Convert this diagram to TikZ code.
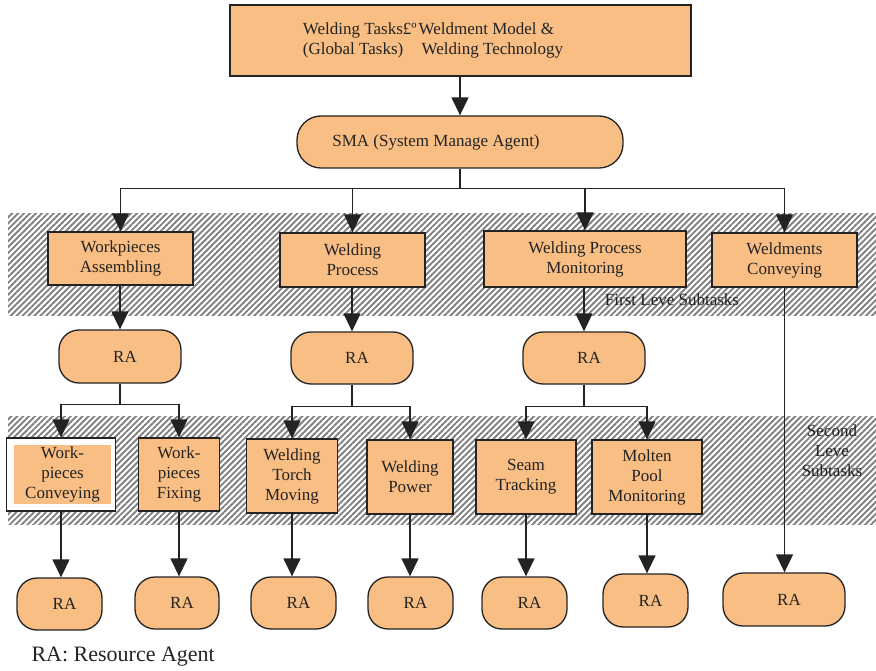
\documentclass[tikz,border=0pt]{standalone}
\usepackage{fontspec}
\setmainfont{Liberation Serif}
\usetikzlibrary{arrows.meta,patterns.meta}
\definecolor{boxfill}{RGB}{249,190,132}
\definecolor{edge}{RGB}{35,35,35}
\begin{document}
\begin{tikzpicture}[x=1pt,y=-1pt,
  every node/.style={font=\fontsize{17}{20}\selectfont, text=edge},
  task/.style={draw=edge, line width=1.3pt, fill=boxfill, rectangle, inner sep=0pt, align=center},
  plain/.style={draw=edge, line width=1.3pt, fill=boxfill, rectangle, inner sep=0pt},
  agent/.style={draw=edge, line width=1.3pt, fill=boxfill, rectangle, rounded corners=20pt, inner sep=0pt},
  link/.style={draw=edge, line width=1.3pt, -{Triangle[width=17pt,length=18pt]}},
  band/.style={pattern={Lines[angle=45,distance=4.2pt,line width=1.9pt]}, pattern color=black!50}
]
\useasboundingbox (0,0) rectangle (876,671);

% hatched bands for the two subtask levels
\fill[band] (8,214) rectangle (876,315);
\fill[band] (8,416) rectangle (876,524);

% global level
\node[plain, minimum width=461pt, minimum height=71pt] (top) at (460.5,40.5)
  {\hspace*{-55pt}\begin{tabular}{@{}l@{\hspace{2pt}}l@{}}Welding Tasks£º&Weldment Model \&\\(Global Tasks)&\hspace{3pt}Welding Technology\end{tabular}};
\node[plain, rounded corners=24pt, minimum width=326pt, minimum height=52pt] (sma) at (460,142)
  {\hspace*{-48pt}SMA (System Manage Agent)};

% first level subtasks
\node[task, minimum width=145pt, minimum height=53pt] (wa) at (120.5,258.5) {Workpieces\\Assembling};
\node[task, minimum width=145pt, minimum height=54pt] (wp) at (352.5,260) {Welding\\Process};
\node[task, minimum width=202pt, minimum height=56pt] (wpm) at (585,259) {Welding Process\\Monitoring};
\node[task, minimum width=145pt, minimum height=54pt] (wdc) at (784.5,260) {Weldments\\Conveying};
\node (lvl1) at (672,300) {First Leve Subtasks};

% resource agents of the first level
\node[agent, minimum width=122pt, minimum height=53pt] (ra1) at (120,356.5) {\hspace*{10pt}RA};
\node[agent, minimum width=122pt, minimum height=52pt] (ra2) at (352,358) {\hspace*{10pt}RA};
\node[agent, minimum width=122pt, minimum height=52pt] (ra3) at (584,358) {\hspace*{10pt}RA};

% second level subtasks
\node[draw=edge, line width=1.3pt, fill=white, minimum width=109pt, minimum height=73pt, inner sep=0pt] (wcv) at (61,474.5) {};
\node[fill=boxfill, minimum width=97pt, minimum height=59pt, inner sep=0pt, align=center] (wcvin) at (62.5,474.5) {Work-\\pieces\\Conveying};
\node[task, minimum width=81pt, minimum height=73pt] (wfx) at (179,474.5) {Work-\\pieces\\Fixing};
\node[task, minimum width=91pt, minimum height=74pt] (wtm) at (292,476) {Welding\\Torch\\Moving};
\node[task, minimum width=86pt, minimum height=74pt] (wpw) at (410,477) {Welding\\Power};
\node[task, minimum width=100pt, minimum height=74pt] (stk) at (526,477) {Seam\\Tracking};
\node[task, minimum width=110pt, minimum height=74pt] (mpm) at (647,477) {Molten\\Pool\\Monitoring};
\node[align=center] (lvl2) at (832,451) {Second\\Leve\\Subtasks};

% resource agents of the second level
\node[agent, minimum width=85pt, minimum height=52pt] (r4) at (59.5,604) {\hspace*{10pt}RA};
\node[agent, minimum width=84pt, minimum height=52pt] (r5) at (177,603) {\hspace*{10pt}RA};
\node[agent, minimum width=85pt, minimum height=52pt] (r6) at (293.5,603) {\hspace*{10pt}RA};
\node[agent, minimum width=85pt, minimum height=52pt] (r7) at (410.5,603) {\hspace*{10pt}RA};
\node[agent, minimum width=85pt, minimum height=52pt] (r8) at (524.5,603) {\hspace*{10pt}RA};
\node[agent, minimum width=85pt, minimum height=53pt] (r9) at (645.5,600.5) {\hspace*{10pt}RA};
\node[agent, minimum width=122pt, minimum height=53pt] (r10) at (784,599.5) {\hspace*{10pt}RA};

\node[anchor=west, font=\fontsize{22}{26}\selectfont] (legend) at (28,657) {RA: Resource Agent};

% connectors
\draw[link] (top.south -| sma.north) -- (sma.north);
\draw[link] (sma.south) -- ++(0,20) -| (wa.north);
\draw[link] (sma.south) -- ++(0,20) -| (wp.north);
\draw[link] (sma.south) -- ++(0,20) -| (wpm.north);
\draw[link] (sma.south) -- ++(0,20) -| (wdc.north);

\draw[link] (wa.south -| ra1.north) -- (ra1.north);
\draw[link] (wp.south -| ra2.north) -- (ra2.north);
\draw[link] (wpm.south -| ra3.north) -- (ra3.north);
\draw[link] (wdc.south) -- (wdc.south |- r10.north);

\draw[link] (ra1.south) -- ++(0,21) -| (wcv.north);
\draw[link] (ra1.south) -- ++(0,21) -| (wfx.north);
\draw[link] (ra2.south) -- ++(0,22) -| (wtm.north);
\draw[link] (ra2.south) -- ++(0,22) -| (wpw.north);
\draw[link] (ra3.south) -- ++(0,22) -| (stk.north);
\draw[link] (ra3.south) -- ++(0,22) -| (mpm.north);

\draw[link] (wcv.south) -- (wcv.south |- r4.north);
\draw[link] (wfx.south) -- (wfx.south |- r5.north);
\draw[link] (wtm.south) -- (wtm.south |- r6.north);
\draw[link] (wpw.south) -- (wpw.south |- r7.north);
\draw[link] (stk.south) -- (stk.south |- r8.north);
\draw[link] (mpm.south) -- (mpm.south |- r9.north);
\end{tikzpicture}
\end{document}
